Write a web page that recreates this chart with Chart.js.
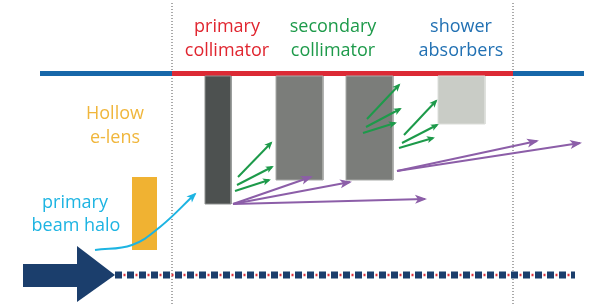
<!DOCTYPE html>
<html>
<head>
<meta charset="utf-8">
<script src="https://cdn.jsdelivr.net/npm/chart.js@4"></script>
<style>
  html, body { margin: 0; padding: 0; background: #fff; }
  canvas { display: block; }
</style>
</head>
<body>
<canvas id="diagram" width="590" height="304"></canvas>
<script>
// Diagram geometry, in plot units (x left->right, y top->bottom)
const sectionEdges = [172, 513];
const pipeLeft = [[40, 73.5], [172, 73.5]];
const pipeRight = [[513, 73.5], [584, 73.5]];
const pipeCollimation = [[172, 73.5], [513, 73.5]];

// blocks: [xLeft, xRight, yTop, yBottom]
const primaryCollimator = [205, 231, 76, 204];
const secondaryCollimators = [[276, 323, 76, 180], [346, 393, 76, 180]];
const showerAbsorber = [438, 485, 76, 124];
const electronLens = [132, 157, 177, 250];

// beam
const beamShaft = [23, 77, 264, 287];
const beamHeadTop = [[77, 246], [115, 275]];
const beamHeadBottom = [[77, 302], [115, 275]];
const beamAxis = [[115, 275], [575, 275]];

// halo path and scattered particles
const haloPath = [[95, 250], [132, 245], [160, 227], [195, 194]];
const secondaryParticles = [
    [[238, 177], [271, 143]], [[237, 185], [272, 167]], [[235, 191], [269, 180]],
    [[367, 119], [399, 85]], [[366, 127], [400, 109]], [[363, 133], [395, 123]],
    [[404, 135], [436, 101]], [[402, 143], [437, 125]], [[399, 148], [433, 138]]
];
const tertiaryParticles = [
    [[233, 204], [311, 177]], [[233, 204], [350, 182]], [[233, 204], [425, 199]],
    [[397, 171], [537, 141]], [[397, 171], [580, 143]]
];

const labels = [
    { text: 'primary', x: 227, y: 32, color: '#e0252f' },
    { text: 'collimator', x: 227, y: 56, color: '#e0252f' },
    { text: 'secondary', x: 333, y: 32, color: '#1d9a4a' },
    { text: 'collimator', x: 333, y: 56, color: '#1d9a4a' },
    { text: 'shower', x: 461, y: 32, color: '#2271b3' },
    { text: 'absorbers', x: 461, y: 56, color: '#2271b3' },
    { text: 'Hollow', x: 115, y: 119, color: '#f0b63c' },
    { text: 'e-lens', x: 115, y: 143, color: '#f0b63c' },
    { text: 'primary', x: 75, y: 208, color: '#1db4e2' },
    { text: 'beam halo', x: 76, y: 231, color: '#1db4e2' }
];

const pts = arr => arr.map(([x, y]) => ({ x, y }));

function line(points, color, width, extra) {
    return Object.assign({
        data: pts(points),
        borderColor: color,
        borderWidth: width,
        pointRadius: 0,
        fill: false,
        tension: 0
    }, extra || {});
}

function block(r, color, edge, order) {
    return [
        line([[r[0], r[3]], [r[1], r[3]]], color, 0, { fill: { value: r[2] }, backgroundColor: color, order: order }),
        line([[r[0], r[2]], [r[1], r[2]], [r[1], r[3]], [r[0], r[3]], [r[0], r[2]]], edge, 1, { order: order - 0.5 })
    ];
}

const datasets = [];
sectionEdges.forEach(x => datasets.push(line([[x, 3], [x, 304]], '#555', 1, { borderDash: [1, 2], order: 20 })));
datasets.push(line(pipeLeft, '#1767a9', 5, { order: 15 }));
datasets.push(line(pipeRight, '#1767a9', 5, { order: 15 }));
datasets.push(line(pipeCollimation, '#dc2a35', 5, { order: 15 }));
datasets.push(...block(primaryCollimator, '#4d5150', '#8e918f', 12));
secondaryCollimators.forEach(r => datasets.push(...block(r, '#7b7d7a', '#a8aaa7', 12)));
datasets.push(...block(showerAbsorber, '#c9ccc6', '#dcdeda', 12));
datasets.push(line([[electronLens[0], electronLens[3]], [electronLens[1], electronLens[3]]], '#f0b232', 0,
    { fill: { value: electronLens[2] }, backgroundColor: '#f0b232', order: 12 }));
// big beam arrow
datasets.push(line([[beamShaft[0], beamShaft[3]], [beamShaft[1], beamShaft[3]]], '#1b3e6c', 0,
    { fill: { value: beamShaft[2] }, backgroundColor: '#1b3e6c', order: 10 }));
datasets.push(line(beamHeadTop, '#1b3e6c', 0, { fill: '+1', backgroundColor: '#1b3e6c', order: 10 }));
datasets.push(line(beamHeadBottom, '#1b3e6c', 0, { order: 10 }));
// beam axis: red dots behind navy squares
datasets.push(line(beamAxis, '#e0323c', 2.5, { borderDash: [2, 4], borderDashOffset: 3.5, order: 9 }));
datasets.push(line(beamAxis, '#1b3e6c', 7, { borderDash: [7, 5], order: 8 }));
// halo and particle showers
datasets.push(line(haloPath, '#1db4e2', 2, { tension: 0.4, head: [10, 4], order: 2 }));
secondaryParticles.forEach(p => datasets.push(line(p, '#1d9a4a', 2, { head: [8, 3.5], order: 3 })));
tertiaryParticles.forEach(p => datasets.push(line(p, '#8c5ea8', 2, { head: [12, 4.5], order: 1 })));

const arrowHeads = {
    id: 'arrowHeads',
    afterDatasetsDraw(chart) {
        const { ctx, scales: { x, y } } = chart;
        chart.data.datasets.forEach(ds => {
            if (!ds.head) return;
            const a = ds.data[ds.data.length - 2];
            const b = ds.data[ds.data.length - 1];
            const x1 = x.getPixelForValue(a.x), y1 = y.getPixelForValue(a.y);
            const x2 = x.getPixelForValue(b.x), y2 = y.getPixelForValue(b.y);
            const ang = Math.atan2(y2 - y1, x2 - x1);
            const [len, half] = ds.head;
            ctx.save();
            ctx.translate(x2, y2);
            ctx.rotate(ang);
            ctx.fillStyle = ds.borderColor;
            ctx.beginPath();
            ctx.moveTo(2, 0);
            ctx.lineTo(2 - len, -half);
            ctx.lineTo(2 - len * 0.75, 0);
            ctx.lineTo(2 - len, half);
            ctx.closePath();
            ctx.fill();
            ctx.restore();
        });
    }
};

const textLabels = {
    id: 'textLabels',
    afterDraw(chart) {
        const { ctx, scales: { x, y } } = chart;
        ctx.save();
        ctx.font = '18px "Open Sans", sans-serif';
        ctx.textAlign = 'center';
        ctx.textBaseline = 'alphabetic';
        labels.forEach(l => {
            ctx.fillStyle = l.color;
            ctx.fillText(l.text, x.getPixelForValue(l.x), y.getPixelForValue(l.y));
        });
        ctx.restore();
    }
};

new Chart(document.getElementById('diagram').getContext('2d'), {
    type: 'line',
    data: { datasets: datasets },
    options: {
        responsive: false,
        animation: false,
        events: [],
        layout: { padding: 0 },
        scales: {
            x: { type: 'linear', min: 0, max: 590, display: false },
            y: { type: 'linear', min: 0, max: 304, reverse: true, display: false }
        },
        plugins: {
            legend: { display: false },
            tooltip: { enabled: false }
        }
    },
    plugins: [arrowHeads, textLabels]
});
</script>
</body>
</html>
